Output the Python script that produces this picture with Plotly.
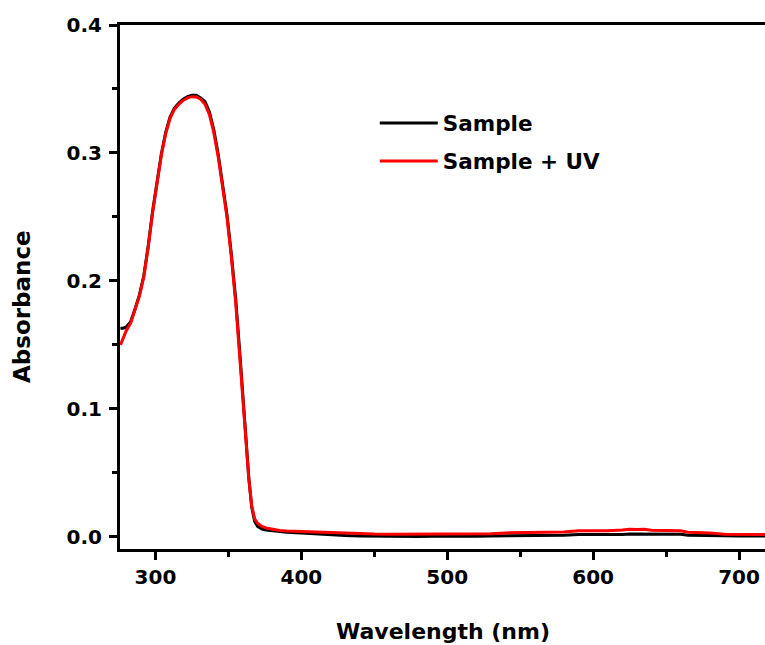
import plotly.graph_objects as go

# Wavelength grid (nm) shared by both spectra
wavelength = [276, 278, 280, 283, 286, 289, 292, 295, 298, 301, 304, 307, 310,
              313, 316, 319, 322, 325, 328, 331, 334, 337, 340, 343, 346, 349,
              352, 355, 358, 360, 362, 364, 366, 368, 370, 373, 376, 380, 385,
              390, 400, 410, 420, 430, 440, 450, 460, 470, 480, 490, 500, 510,
              520, 530, 540, 550, 560, 570, 580, 590, 600, 610, 620, 625, 630,
              635, 640, 650, 660, 665, 670, 680, 690, 700, 710, 720]

# Absorbance of the untreated sample
abs_sample = [0.163, 0.163, 0.164, 0.168, 0.178, 0.189, 0.204, 0.227, 0.254,
              0.277, 0.299, 0.316, 0.328, 0.335, 0.339, 0.342, 0.344, 0.345,
              0.345, 0.343, 0.340, 0.332, 0.318, 0.299, 0.277, 0.252, 0.221,
              0.186, 0.141, 0.109, 0.074, 0.046, 0.023, 0.012, 0.008, 0.006,
              0.0052, 0.0046, 0.0040, 0.0035, 0.0030, 0.0022, 0.0015, 0.0010,
              0.0006, 0.0004, 0.0002, 0.0003, 0.0001, 0.0003, 0.0002, 0.0003,
              0.0004, 0.0005, 0.0006, 0.0008, 0.0008, 0.0012, 0.0012, 0.0018,
              0.0017, 0.0019, 0.0018, 0.0021, 0.0021, 0.0020, 0.0019, 0.0018,
              0.0019, 0.0012, 0.0010, 0.0008, 0.0007, 0.0006, 0.0005, 0.0006]

# Absorbance after UV exposure
abs_sample_uv = [0.150, 0.156, 0.161, 0.167, 0.177, 0.188, 0.203, 0.226, 0.253,
                 0.276, 0.298, 0.315, 0.327, 0.334, 0.338, 0.341, 0.343, 0.344,
                 0.3438, 0.342, 0.338, 0.330, 0.316, 0.297, 0.275, 0.250, 0.219,
                 0.183, 0.137, 0.106, 0.071, 0.045, 0.024, 0.014, 0.0105, 0.008,
                 0.0068, 0.0058, 0.0049, 0.0044, 0.0040, 0.0033, 0.0028, 0.0025,
                 0.0023, 0.0021, 0.0020, 0.0020, 0.0019, 0.0020, 0.0021, 0.0022,
                 0.0022, 0.0024, 0.0030, 0.0033, 0.0032, 0.0035, 0.0036, 0.0046,
                 0.0046, 0.0047, 0.0052, 0.0058, 0.0056, 0.0058, 0.0050, 0.0047,
                 0.0046, 0.0035, 0.0033, 0.0030, 0.0020, 0.0019, 0.0018, 0.0018]

x_ticks = [300, 400, 500, 600, 700]
y_ticks = [0.0, 0.1, 0.2, 0.3, 0.4]
y_tick_text = ["0.0", "0.1", "0.2", "0.3", "0.4"]

FONT = "DejaVu Sans"

fig = go.Figure()
fig.add_trace(go.Scatter(x=wavelength, y=abs_sample, mode="lines",
                         name="<b>Sample</b>", legendgroup="a",
                         line=dict(color="#000000", width=3)))
fig.add_trace(go.Scatter(x=wavelength, y=abs_sample_uv, mode="lines",
                         name="<b>Sample + UV</b>", legendgroup="b",
                         line=dict(color="#ff0000", width=3)))

axis_common = dict(
    showline=True, linecolor="black", linewidth=3,
    ticks="outside", ticklen=8, tickwidth=3, tickcolor="black",
    showgrid=False, zeroline=False,
    tickfont=dict(family=FONT, size=20, color="black", weight="bold"),
)

fig.update_xaxes(range=[275.7, 717.8], tickvals=x_ticks, mirror=True,
                 minor=dict(dtick=50, tick0=250, ticks="outside", ticklen=5,
                            tickwidth=3, tickcolor="black"),
                 **axis_common)
fig.update_yaxes(range=[-0.0096, 0.4], tickvals=y_ticks, ticktext=y_tick_text,
                 ticklabelstandoff=3,
                 minor=dict(dtick=0.05, tick0=0, ticks="outside", ticklen=5,
                            tickwidth=3, tickcolor="black"),
                 **axis_common)

fig.update_layout(
    width=765, height=645,
    margin=dict(l=120, r=0, t=25, b=96),
    paper_bgcolor="white", plot_bgcolor="white",
    font=dict(family=FONT, color="black"),
    legend=dict(x=0.395, y=0.852, xanchor="left", yanchor="top",
                bgcolor="rgba(0,0,0,0)", itemwidth=58, tracegroupgap=7,
                font=dict(family=FONT, size=21.5, color="black")),
    annotations=[
        dict(text="<b>Wavelength (nm)</b>", xref="paper", yref="paper",
             x=0.5, y=-0.1565, xanchor="center", yanchor="middle",
             showarrow=False, font=dict(family=FONT, size=22, color="black")),
        dict(text="<b>Absorbance</b>", xref="paper", yref="paper",
             x=-0.152, y=0.4637, xanchor="center", yanchor="middle",
             textangle=-90, showarrow=False,
             font=dict(family=FONT, size=23, color="black")),
    ],
)

fig.write_html("out.html")
